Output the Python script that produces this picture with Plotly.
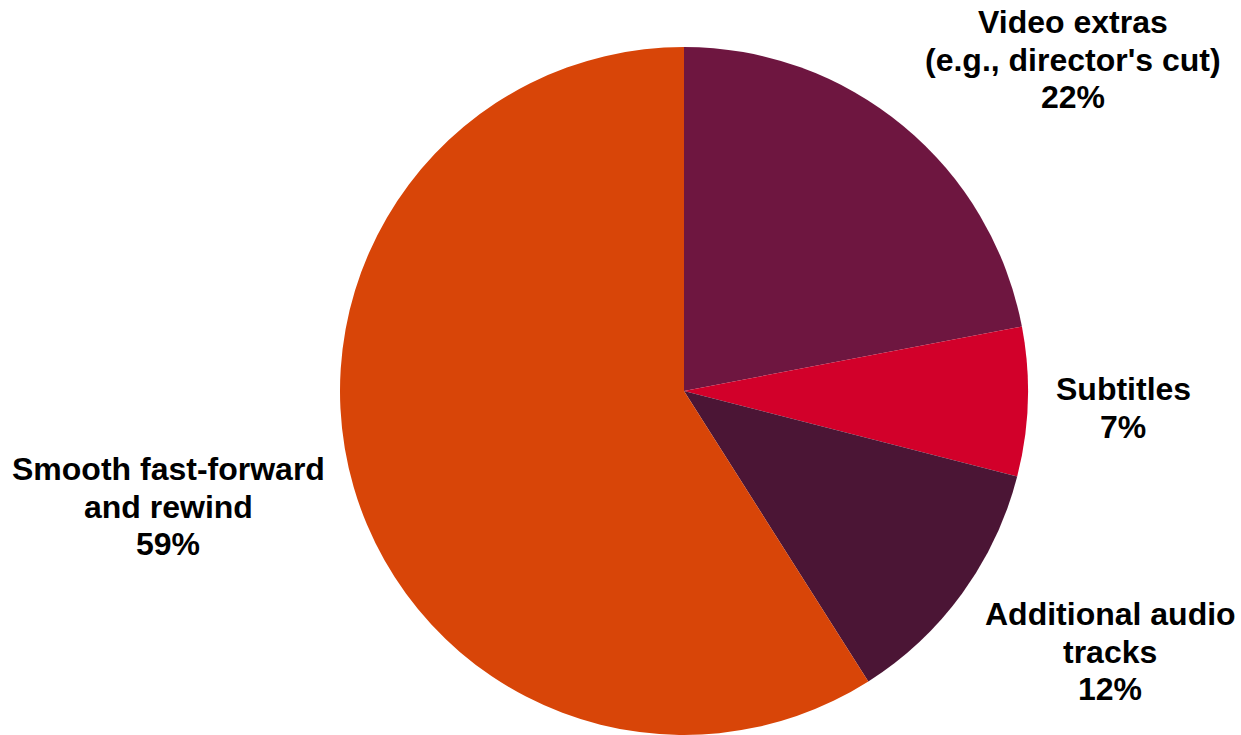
import plotly.graph_objects as go

labels = ["Video extras<br>(e.g., director's cut)", "Subtitles", "Additional audio<br>tracks", "Smooth fast-forward<br>and rewind"]
values = [22, 7, 12, 59]
colors = ["#6E1640", "#D2002A", "#4B1535", "#D84508"]
label_px = [(1073, 22), (1123, 389), (1110, 614), (168, 469)]  # center of first line
line_gap = 37.5

W, H = 1241, 735

fig = go.Figure(go.Pie(
    labels=labels,
    values=values,
    marker=dict(colors=colors, line=dict(width=0)),
    sort=False,
    direction="clockwise",
    rotation=0,
    textinfo="none",
    hoverinfo="label+percent",
    domain=dict(x=[340 / W, 1028 / W], y=[0, 1 - 47 / H]),
    showlegend=False,
))

total = sum(values)
for lab, val, (px, py) in zip(labels, values, label_px):
    lines = lab.split("<br>") + [f"{round(100 * val / total)}%"]
    for i, ln in enumerate(lines):
        fig.add_annotation(
            x=px / W, y=1 - (py + i * line_gap) / H, xref="paper", yref="paper",
            xanchor="center", yanchor="middle", showarrow=False,
            text=f"<b>{ln}</b>",
            font=dict(family="Liberation Sans, Arial, sans-serif", size=32, color="#000000"),
            align="center",
        )

fig.update_layout(
    width=W, height=H,
    margin=dict(l=0, r=0, t=0, b=0),
    paper_bgcolor="white", plot_bgcolor="white",
)

fig.write_html(
    "out.html",
    config={"displayModeBar": False},
    post_script="document.body.style.margin='0';document.body.style.overflow='hidden';",
)
